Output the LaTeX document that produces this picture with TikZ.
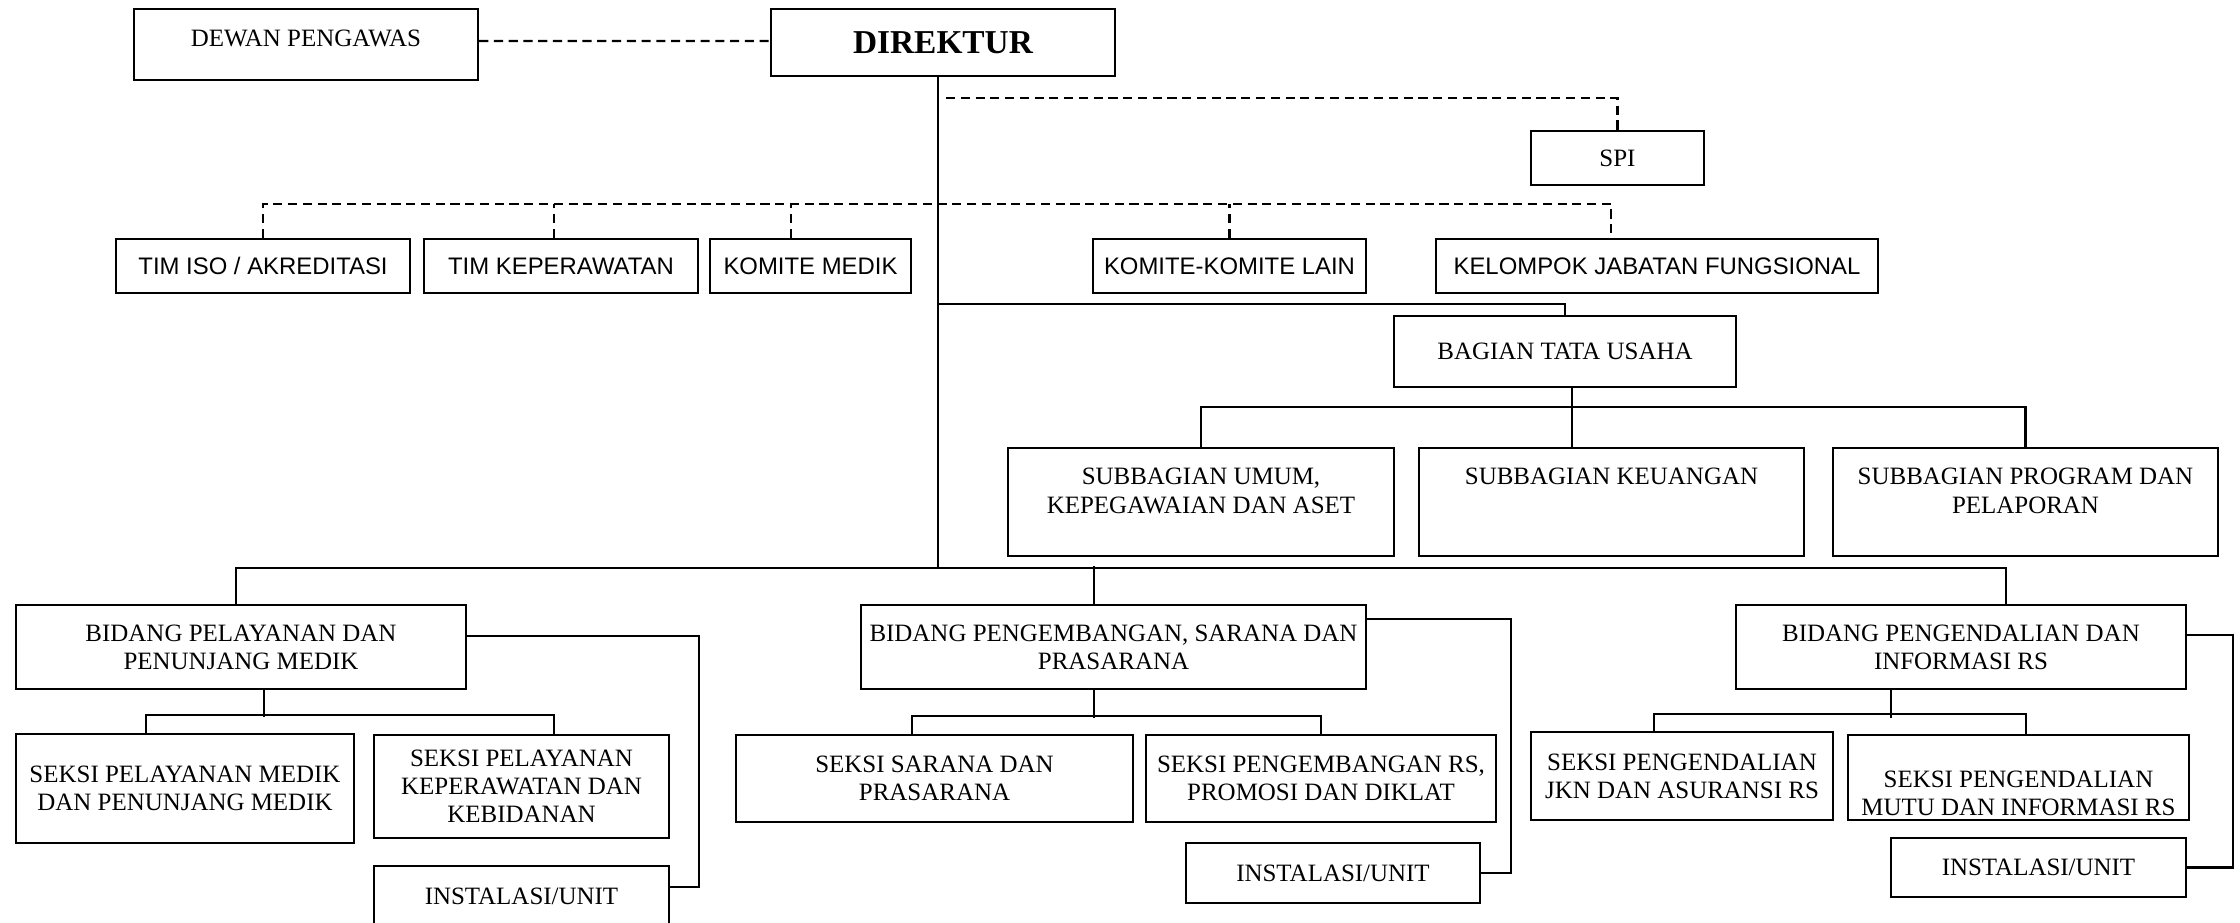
\documentclass[tikz,border=0pt]{standalone}
\usepackage{fontspec}
\setmainfont{Liberation Serif}
\newfontfamily\arial{Liberation Sans}
\usepackage{tikz}

\begin{document}
\begin{tikzpicture}[x=0.1mm,y=-0.1mm,
  box/.style={draw,line width=0.65pt,inner sep=0pt,align=center,
    font=\fontsize{7.1}{8}\selectfont},
  sbox/.style={box,font=\arial\fontsize{6.8}{8}\selectfont},
  conn/.style={line width=0.6pt},
  dashline/.style={line width=0.6pt,dash pattern=on 2.6pt off 1.6pt}]
\clip (0,0) rectangle (2240,923);
\fill[white] (0,0) rectangle (2240,923);

\node[box,minimum width=34.4mm,minimum height=7.1mm,text height=3.75mm,
  text depth=3.35mm] (dewan) at (306,44.5) {DEWAN PENGAWAS};
\node[box,minimum width=34.4mm,minimum height=6.7mm,
  font=\bfseries\fontsize{9.5}{11}\selectfont] (dir) at (943,42.5) {DIREKTUR};
\node[box,minimum width=17.3mm,minimum height=5.4mm] (spi) at (1617.5,158) {SPI};

\node[sbox,minimum width=29.4mm,minimum height=5.4mm] (tim1) at (263,266) {TIM ISO / AKREDITASI};
\node[sbox,minimum width=27.4mm,minimum height=5.4mm] (tim2) at (561,266) {TIM KEPERAWATAN};
\node[sbox,minimum width=20.1mm,minimum height=5.4mm] (kmed) at (810.5,266) {KOMITE MEDIK};
\node[sbox,minimum width=27.3mm,minimum height=5.4mm] (klain) at (1229.5,266) {KOMITE-KOMITE LAIN};
\node[sbox,minimum width=44.2mm,minimum height=5.4mm] (kjf) at (1657,266) {KELOMPOK JABATAN FUNGSIONAL};

\node[box,minimum width=34.2mm,minimum height=7.1mm] (bts) at (1565,351.5) {BAGIAN TATA USAHA};
\node[box,minimum width=38.6mm,minimum height=10.8mm] (sb1) at (1201,502)
  {SUBBAGIAN UMUM,\\KEPEGAWAIAN DAN ASET\\[-4pt]\strut};
\node[box,minimum width=38.5mm,minimum height=10.8mm] (sb2) at (1611.5,502)
  {SUBBAGIAN KEUANGAN\\\strut\\[-4pt]\strut};
\node[box,minimum width=38.5mm,minimum height=10.8mm] (sb3) at (2025.5,502)
  {SUBBAGIAN PROGRAM DAN\\PELAPORAN\\[-4pt]\strut};

\node[box,minimum width=45mm,minimum height=8.4mm] (bd1) at (241,647)
  {BIDANG PELAYANAN DAN\\PENUNJANG MEDIK};
\node[box,minimum width=50.5mm,minimum height=8.4mm] (bd2) at (1113.5,647)
  {BIDANG PENGEMBANGAN, SARANA DAN\\PRASARANA};
\node[box,minimum width=45mm,minimum height=8.4mm] (bd3) at (1961,647)
  {BIDANG PENGENDALIAN DAN\\INFORMASI RS};

\node[box,minimum width=33.8mm,minimum height=10.9mm] (sk11) at (185,788.5)
  {SEKSI PELAYANAN MEDIK\\DAN PENUNJANG MEDIK};
\node[box,minimum width=29.5mm,minimum height=10.3mm] (sk12) at (521.5,786.5)
  {SEKSI PELAYANAN\\KEPERAWATAN DAN\\KEBIDANAN};
\node[box,minimum width=29.5mm,minimum height=6mm] (in1) at (521.5,896) {INSTALASI/UNIT};
\node[box,minimum width=39.7mm,minimum height=8.7mm] (sk21) at (934.5,778.5)
  {SEKSI SARANA DAN\\PRASARANA};
\node[box,minimum width=35mm,minimum height=8.7mm] (sk22) at (1321,778.5)
  {SEKSI PENGEMBANGAN RS,\\PROMOSI DAN DIKLAT};
\node[box,minimum width=29.4mm,minimum height=6mm] (in2) at (1333,873) {INSTALASI/UNIT};
\node[box,minimum width=30.2mm,minimum height=8.8mm] (sk31) at (1682,776)
  {SEKSI PENGENDALIAN\\JKN DAN ASURANSI RS};
\node[box,minimum width=34.1mm,minimum height=8.5mm] (sk32) at (2018.5,777.5)
  {\strut\\SEKSI PENGENDALIAN\\MUTU DAN INFORMASI RS};
\node[box,minimum width=29.5mm,minimum height=5.9mm] (in3) at (2038.5,867.5) {INSTALASI/UNIT};

\draw[dashline] ([yshift=0.35mm]dewan.east) -- ([yshift=0.15mm]dir.west);
\draw[conn] ([xshift=-0.5mm]dir.south) -- ++(0,491) coordinate (bus);
\draw[dashline] ([xshift=0.3mm]dir.south) ++(0,21) -| (spi.north);
\draw[dashline] (tim1.north) -- ++(0,-34) -| ([xshift=-4.6mm]kjf.north);
\foreach \n/\s in {tim2/-0.7mm,kmed/-1.95mm,klain/0mm}
  \draw[dashline] ([xshift=\s]\n.north) -- ++(0,-34);
\draw[conn] (bus) ++(0,-264) -| (bts.north);
\draw[conn] ([xshift=0.7mm]bts.south) -- ++(0,61);
\draw[conn] (sb1.north) -- ++(0,-40) -| (sb3.north);
\draw[conn] ([xshift=-0.5mm]bd1.north) |- (bus) -| ([xshift=4.5mm]bd3.north);
\draw[conn] ([xshift=-1.95mm]bd2.north) -- ++(0,-38);

\draw[conn] ([xshift=2.3mm]bd1.south) -- ++(0,27);
\draw[conn] ([xshift=-3.9mm]sk11.north) -- ++(0,-18) -| ([xshift=3.25mm]sk12.north);
\draw[conn] ([yshift=1.1mm]bd1.east) -- ++(232,0) |- ([yshift=0.9mm]in1.east);
\draw[conn] ([xshift=-1.95mm]bd2.south) -- ++(0,28);
\draw[conn] ([xshift=-2.25mm]sk21.north) -- ++(0,-18) -| (sk22.north);
\draw[conn] ([yshift=2.8mm]bd2.east) -- ++(144,0) |- (in2.east);
\draw[conn] ([xshift=-7mm]bd3.south) -- ++(0,28);
\draw[conn] ([xshift=-2.8mm]sk31.north) -- ++(0,-17) -| ([xshift=0.75mm]sk32.north);
\draw[conn] ([yshift=1.2mm]bd3.east) -- ++(46,0) |- (in3.east);
\end{tikzpicture}
\end{document}
